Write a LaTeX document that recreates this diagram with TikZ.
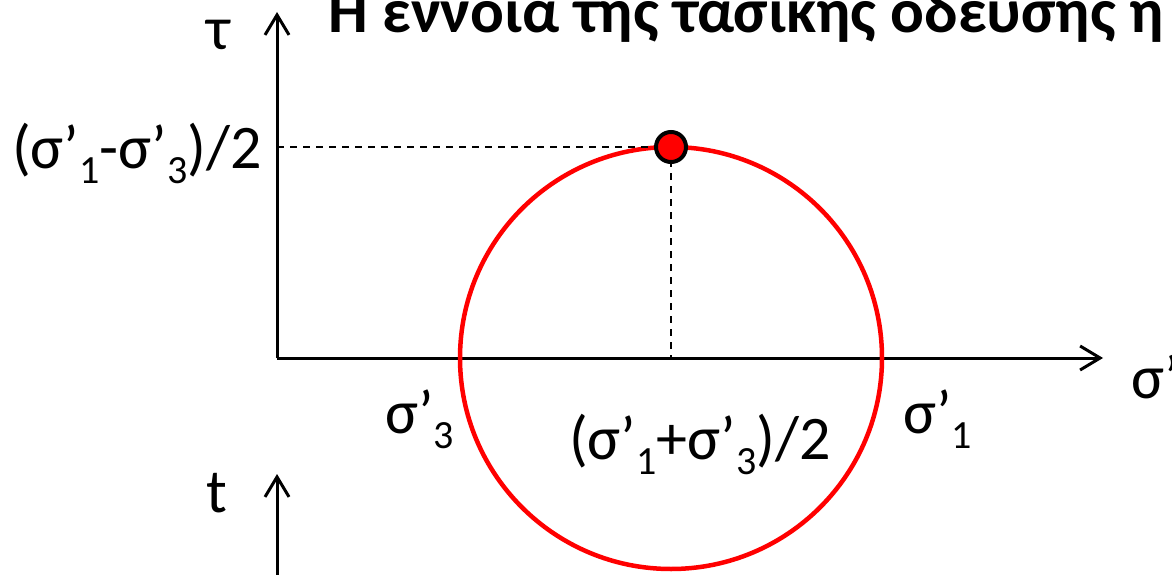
\documentclass[tikz,border=0pt]{standalone}
\usepackage{fontspec}
\setmainfont{Carlito}
\usetikzlibrary{arrows.meta}
\newcommand\lowidx[1]{\raisebox{-0.25em}{\fontsize{40}{40}\selectfont #1}}
\tikzset{
  axis/.style={line width=3pt, -{Straight Barb[length=20pt, width=24pt, line width=3pt]}},
  guide/.style={line width=1.5pt, dash pattern=on 7pt off 6pt},
  lbl/.style={inner sep=0pt, font=\fontsize{62}{62}\selectfont, anchor=base west},
}
\begin{document}
\begin{tikzpicture}[x=1pt, y=-1pt]
\useasboundingbox (0,0) rectangle (1172,575);
\clip (0,0) rectangle (1172,575);
% title
\node[inner sep=0pt, anchor=base west, font=\fontsize{63}{63}\selectfont\bfseries] (title) at (328,33) {Η έννοια της τασικής όδευσης ή};
% axes
\coordinate (O) at (277,358);
\coordinate (ytip) at (277,12);
\coordinate (xtip) at (1103,358);
\draw[axis] (O) -- (ytip);
\draw[axis] (O) -- (xtip);
\coordinate (tbot) at (277,590);
\coordinate (ttip) at (277,474);
\draw[axis] (tbot) -- (ttip);
% circle
\coordinate (C) at (671,358);
\draw[red, line width=4.5pt] (C) circle[radius=211];
% dashed guides
\coordinate (P) at (671,147);
\coordinate (Py) at (277,147);
\draw[guide] (Py) -- (P);
\draw[guide] (P) -- (C);
\node[circle, draw=black, fill=red, line width=4pt, minimum size=30pt, inner sep=0pt] (dot) at (P) {};
% labels
\node[lbl] (tau) at (206,50) {τ};
\node[lbl] (tlab) at (206,512) {t};
\node[lbl] (sx) at (1131,398) {σ’};
\node[lbl] (lblL) at (12,168) {(σ’\lowidx{1}-σ’\lowidx{3})/2};
\node[lbl] (s3) at (385,433) {σ’\lowidx{3}};
\node[lbl] (mid) at (569,459) {(σ’\lowidx{1}+σ’\lowidx{3})/2};
\node[lbl] (s1) at (903,433) {σ’\lowidx{1}};
\end{tikzpicture}
\end{document}
